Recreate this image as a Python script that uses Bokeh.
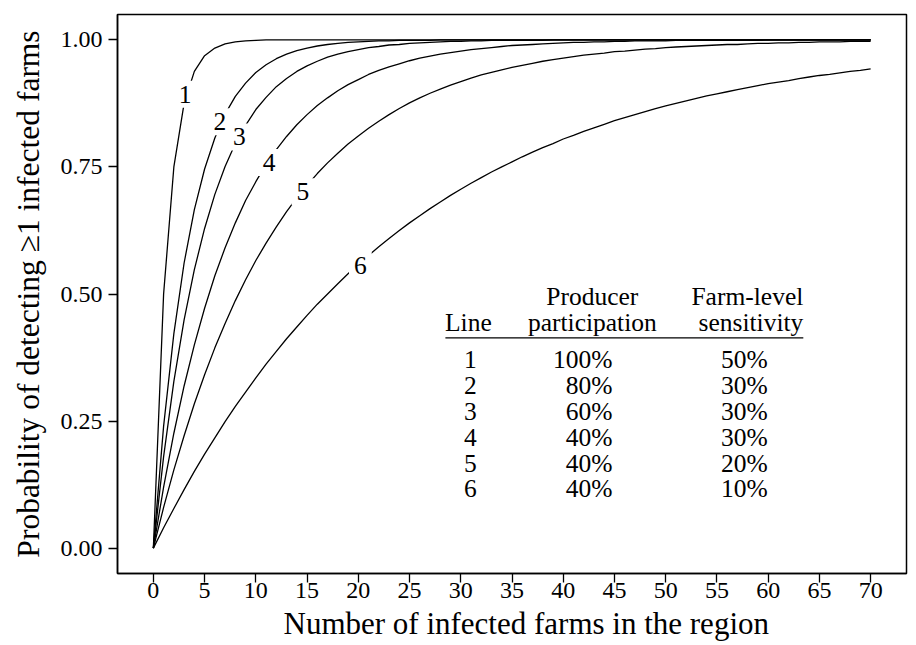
from bokeh.plotting import figure
from bokeh.models import Label, FixedTicker, Range1d, Title
from bokeh.embed import file_html
from bokeh.resources import INLINE
from bokeh.core.properties import value

# ---------------- data ----------------
n_farms = list(range(71))

p_line1 = [0.000, 0.500, 0.750, 0.875, 0.938, 0.969, 0.984, 0.992, 0.996, 0.998,
           0.999, 1.000, 1.000, 1.000, 1.000, 1.000, 1.000, 1.000, 1.000, 1.000,
           1.000, 1.000, 1.000, 1.000, 1.000, 1.000, 1.000, 1.000, 1.000, 1.000,
           1.000, 1.000, 1.000, 1.000, 1.000, 1.000, 1.000, 1.000, 1.000, 1.000,
           1.000, 1.000, 1.000, 1.000, 1.000, 1.000, 1.000, 1.000, 1.000, 1.000,
           1.000, 1.000, 1.000, 1.000, 1.000, 1.000, 1.000, 1.000, 1.000, 1.000,
           1.000, 1.000, 1.000, 1.000, 1.000, 1.000, 1.000, 1.000, 1.000, 1.000,
           1.000]

p_line2 = [0.000, 0.240, 0.422, 0.561, 0.666, 0.746, 0.807, 0.854, 0.889, 0.915,
           0.936, 0.951, 0.963, 0.972, 0.979, 0.984, 0.988, 0.991, 0.993, 0.995,
           0.996, 0.997, 0.998, 0.998, 0.999, 0.999, 0.999, 0.999, 1.000, 1.000,
           1.000, 1.000, 1.000, 1.000, 1.000, 1.000, 1.000, 1.000, 1.000, 1.000,
           1.000, 1.000, 1.000, 1.000, 1.000, 1.000, 1.000, 1.000, 1.000, 1.000,
           1.000, 1.000, 1.000, 1.000, 1.000, 1.000, 1.000, 1.000, 1.000, 1.000,
           1.000, 1.000, 1.000, 1.000, 1.000, 1.000, 1.000, 1.000, 1.000, 1.000,
           1.000]

p_line3 = [0.000, 0.180, 0.328, 0.449, 0.548, 0.629, 0.696, 0.751, 0.796, 0.832,
           0.863, 0.887, 0.908, 0.924, 0.938, 0.949, 0.958, 0.966, 0.972, 0.977,
           0.981, 0.985, 0.987, 0.990, 0.991, 0.993, 0.994, 0.995, 0.996, 0.997,
           0.997, 0.998, 0.998, 0.999, 0.999, 0.999, 0.999, 0.999, 0.999, 1.000,
           1.000, 1.000, 1.000, 1.000, 1.000, 1.000, 1.000, 1.000, 1.000, 1.000,
           1.000, 1.000, 1.000, 1.000, 1.000, 1.000, 1.000, 1.000, 1.000, 1.000,
           1.000, 1.000, 1.000, 1.000, 1.000, 1.000, 1.000, 1.000, 1.000, 1.000,
           1.000]

p_line4 = [0.000, 0.120, 0.226, 0.319, 0.400, 0.472, 0.536, 0.591, 0.640, 0.684,
           0.721, 0.755, 0.784, 0.810, 0.833, 0.853, 0.871, 0.886, 0.900, 0.912,
           0.922, 0.932, 0.940, 0.947, 0.953, 0.959, 0.964, 0.968, 0.972, 0.975,
           0.978, 0.981, 0.983, 0.985, 0.987, 0.989, 0.990, 0.991, 0.992, 0.993,
           0.994, 0.995, 0.995, 0.996, 0.996, 0.997, 0.997, 0.998, 0.998, 0.998,
           0.998, 0.999, 0.999, 0.999, 0.999, 0.999, 0.999, 0.999, 0.999, 0.999,
           1.000, 1.000, 1.000, 1.000, 1.000, 1.000, 1.000, 1.000, 1.000, 1.000,
           1.000]

p_line5 = [0.000, 0.080, 0.154, 0.221, 0.284, 0.341, 0.394, 0.442, 0.487, 0.528,
           0.566, 0.600, 0.632, 0.662, 0.689, 0.714, 0.737, 0.758, 0.777, 0.795,
           0.811, 0.826, 0.840, 0.853, 0.865, 0.876, 0.886, 0.895, 0.903, 0.911,
           0.918, 0.925, 0.931, 0.936, 0.941, 0.946, 0.950, 0.954, 0.958, 0.961,
           0.964, 0.967, 0.970, 0.972, 0.974, 0.977, 0.978, 0.980, 0.982, 0.983,
           0.985, 0.986, 0.987, 0.988, 0.989, 0.990, 0.991, 0.991, 0.992, 0.993,
           0.993, 0.994, 0.994, 0.995, 0.995, 0.996, 0.996, 0.996, 0.997, 0.997,
           0.997]

p_line6 = [0.000, 0.040, 0.078, 0.115, 0.151, 0.185, 0.217, 0.249, 0.279, 0.307,
           0.335, 0.362, 0.387, 0.412, 0.435, 0.458, 0.480, 0.500, 0.520, 0.540,
           0.558, 0.576, 0.593, 0.609, 0.625, 0.640, 0.654, 0.668, 0.681, 0.694,
           0.706, 0.718, 0.729, 0.740, 0.750, 0.760, 0.770, 0.779, 0.788, 0.796,
           0.805, 0.812, 0.820, 0.827, 0.834, 0.841, 0.847, 0.853, 0.859, 0.865,
           0.870, 0.875, 0.880, 0.885, 0.890, 0.894, 0.898, 0.902, 0.906, 0.910,
           0.914, 0.917, 0.920, 0.924, 0.927, 0.930, 0.932, 0.935, 0.938, 0.940,
           0.943]

curve_ids = ["1", "2", "3", "4", "5", "6"]
label_x = [3.1, 6.5, 8.4, 11.3, 14.6, 20.2]
label_y = [0.893, 0.839, 0.809, 0.759, 0.701, 0.557]

table_line = ["1", "2", "3", "4", "5", "6"]
table_participation = ["100%", "80%", "60%", "40%", "40%", "40%"]
table_sensitivity = ["50%", "30%", "30%", "30%", "20%", "10%"]

x_ticks = [0, 5, 10, 15, 20, 25, 30, 35, 40, 45, 50, 55, 60, 65, 70]
y_ticks = [0.0, 0.25, 0.5, 0.75, 1.0]
y_tick_labels = ["0.00", "0.25", "0.50", "0.75", "1.00"]

x_title = "Number of infected farms in the region"
y_title = "Probability of detecting \u22651 infected farms"

# ---------------- figure ----------------
FONT = "Liberation Serif"

p = figure(width=916, height=645, output_backend="svg", toolbar_location=None,
           x_range=Range1d(-3.5, 73.5), y_range=Range1d(-0.05, 1.05),
           min_border_left=117, min_border_right=10, min_border_top=14,
           min_border_bottom=72)
p.grid.visible = False
p.background_fill_color = "white"
p.border_fill_color = "white"
p.outline_line_color = "black"
p.outline_line_width = 1.5

for ax in (p.xaxis[0], p.yaxis[0]):
    ax.axis_line_color = "black"
    ax.axis_line_width = 1.5
    ax.major_tick_line_color = "black"
    ax.major_tick_line_width = 1.3
    ax.major_tick_out = 9
    ax.major_tick_in = 0
    ax.minor_tick_line_color = None
    ax.major_label_text_font = FONT
    ax.major_label_text_font_size = "24px"
    ax.major_label_text_color = "black"
    ax.axis_label_text_font = FONT
    ax.axis_label_text_font_style = "normal"
    ax.axis_label_text_color = "black"

p.xaxis.ticker = FixedTicker(ticks=x_ticks)
p.xaxis.major_label_standoff = 0

p.yaxis.ticker = FixedTicker(ticks=y_ticks)
p.yaxis.major_label_overrides = {t: s for t, s in zip(y_ticks, y_tick_labels)}
p.yaxis.major_label_standoff = 6
p.yaxis.axis_label = y_title
p.yaxis.axis_label_text_font_size = "31.5px"
p.yaxis.axis_label_standoff = 12

# x-axis title, placed below the axis (offset from the frame's left edge)
p.add_layout(Title(text=x_title, align="left", offset=166, standoff=6,
                   text_font=FONT, text_font_size="31px",
                   text_font_style="normal", text_color="black"), "below")

# curves
for ys in [p_line1, p_line2, p_line3, p_line4, p_line5, p_line6]:
    p.line(n_farms, ys, line_color="black", line_width=1.3)

# curve labels (white box breaks the line)
for cid, lx, ly in zip(curve_ids, label_x, label_y):
    p.add_layout(Label(x=lx, y=ly, text=cid, text_align="center",
                       text_baseline="middle", text_font=FONT,
                       text_font_size="25.5px", text_color="black",
                       background_fill_color="white", padding=5))

# table
TS = "25.5px"
row_y = [0.3706 - 0.0508 * i for i in range(6)]
hdr1_y, hdr2_y = 0.4941, 0.4431

p.text(x=[30.74], y=[hdr2_y], text=["Line"], text_font=value(FONT),
       text_font_size=TS, text_align="center", text_baseline="middle",
       text_color="black")
p.text(x=[42.84, 42.84], y=[hdr1_y, hdr2_y], text=["Producer", "participation"],
       text_font=value(FONT), text_font_size=TS, text_align="center",
       text_baseline="middle", text_color="black")
p.text(x=[63.43, 63.43], y=[hdr1_y, hdr2_y], text=["Farm-level", "sensitivity"],
       text_font=value(FONT), text_font_size=TS, text_align="right",
       text_baseline="middle", text_color="black")
p.line([28.5, 63.43], [0.4137, 0.4137], line_color="black", line_width=1.3)

p.text(x=[30.94] * 6, y=row_y, text=table_line, text_font=value(FONT),
       text_font_size=TS, text_align="center", text_baseline="middle",
       text_color="black")
p.text(x=[44.8] * 6, y=row_y, text=table_participation, text_font=value(FONT),
       text_font_size=TS, text_align="right", text_baseline="middle",
       text_color="black")
p.text(x=[57.68] * 6, y=row_y, text=table_sensitivity, text_font=value(FONT),
       text_font_size=TS, text_align="center", text_baseline="middle",
       text_color="black")

open("out.html", "w").write(file_html(p, INLINE))
